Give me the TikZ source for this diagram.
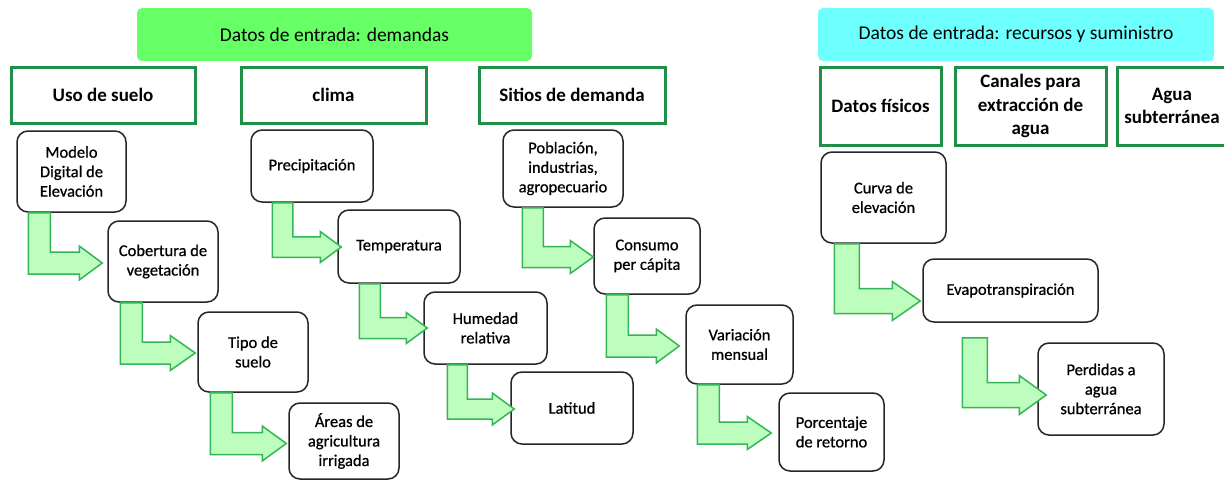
\documentclass[tikz,border=0pt]{standalone}
\usepackage{fontspec}
\setmainfont{Carlito}
\newfontfamily\itemfont[FakeBold=0.7]{Carlito}
\usetikzlibrary{calc}
\definecolor{hdgreen}{HTML}{66FF66}
\definecolor{hdcyan}{HTML}{6EFFFF}
\definecolor{catgreen}{HTML}{1E8F45}
\definecolor{arrfill}{HTML}{BDFDBD}
\definecolor{arrdraw}{HTML}{35B555}
\tikzset{
  header/.style={fill=#1, rounded corners=5pt, font=\fontsize{19.5}{23}\selectfont, inner sep=0pt},
  cat/.style={draw=catgreen, line width=3pt, fill=white, font=\bfseries\fontsize{19}{23.5}\selectfont, align=center, inner sep=0pt},
  item/.style={draw=black!85, line width=1.5pt, rounded corners=11pt, fill=white, font=\itemfont\fontsize{16.5}{19.5}\selectfont, align=center, inner sep=0pt},
  bent/.style={fill=arrfill, draw=arrdraw, line width=1.5pt, line join=miter},
}
% #1 src, #2 dst, #3 x offset, #4 gap, #5 tip dx, #6 tip dy, #7 shaft width, #8 head half height, #9 head length
\newcommand\bentarr[9]{%
  \draw[bent] let \p1=(#1.south west), \p2=(#2.west),
      \n1={\x1+#3pt}, \n2={\y1-#4pt}, \n3={\x2+#5pt}, \n4={\y2-#6pt} in
    (\n1,\n2) -- (\n1+#7pt,\n2) -- (\n1+#7pt,\n4+#7pt/2) -- (\n3-#9pt,\n4+#7pt/2)
    -- (\n3-#9pt,\n4+#8pt) -- (\n3,\n4) -- (\n3-#9pt,\n4-#8pt) -- (\n3-#9pt,\n4-#7pt/2)
    -- (\n1,\n4-#7pt/2) -- cycle;}
\begin{document}
\begin{tikzpicture}[x=1pt,y=-1pt]
\useasboundingbox (0,0) rectangle (1224,480);
\fill[white] (0,0) rectangle (1224,480);
% headers
\node[header=hdgreen, minimum width=395pt, minimum height=53pt] (hd) at (334.5,34.5) {Datos de entrada: demandas};
\node[header=hdcyan, minimum width=396pt, minimum height=53pt] (hr) at (1016,34.5) {Datos de entrada: recursos y suministro};
% categories
\node[cat, minimum width=184pt, minimum height=56pt] (c1) at (103,95) {Uso de suelo};
\node[cat, minimum width=185pt, minimum height=56pt] (c2) at (333.5,95) {clima};
\node[cat, minimum width=186pt, minimum height=56pt] (c3) at (572,95) {Sitios de demanda};
\node[cat, minimum width=121pt, minimum height=78pt] (c4) at (880.5,106) {Datos físicos};
\node[cat, minimum width=151pt, minimum height=78pt] (c5) at (1030.5,106) {Canales para\\extracción de\\agua};
\node[cat, minimum width=110pt, minimum height=78pt] (c6) at (1172,106) {Agua\\subterránea};
% uso de suelo column
\node[item, minimum width=109pt, minimum height=81pt] (m1) at (71.5,171.5) {Modelo\\Digital de\\Elevación};
\node[item, minimum width=110pt, minimum height=81pt] (m2) at (163,261.5) {Cobertura de\\vegetación};
\node[item, minimum width=110pt, minimum height=80pt] (m3) at (253,352) {Tipo de\\suelo};
\node[item, minimum width=110pt, minimum height=76pt] (m4) at (344,441) {Áreas de\\agricultura\\irrigada};
% clima column
\node[item, minimum width=122pt, minimum height=72pt] (k1) at (312,166) {Precipitación};
\node[item, minimum width=122pt, minimum height=73pt] (k2) at (399,246.5) {Temperatura};
\node[item, minimum width=123pt, minimum height=72pt] (k3) at (485.5,328) {Humedad\\relativa};
\node[item, minimum width=122pt, minimum height=72pt] (k4) at (572,408) {Latitud};
% sitios column
\node[item, minimum width=120pt, minimum height=77pt] (s1) at (563,168.5) {Población,\\industrias,\\agropecuario};
\node[item, minimum width=106pt, minimum height=76pt] (s2) at (647,256) {Consumo\\per cápita};
\node[item, minimum width=107pt, minimum height=79pt] (s3) at (739.5,344.5) {Variación\\mensual};
\node[item, minimum width=105pt, minimum height=78pt] (s4) at (831.5,432) {Porcentaje\\de retorno};
% recursos column
\node[item, minimum width=125pt, minimum height=91pt] (r1) at (883.5,197.5) {Curva de\\elevación};
\node[item, minimum width=175pt, minimum height=63pt] (r2) at (1010.5,290.5) {Evapotranspiración};
\node[item, minimum width=126pt, minimum height=92pt] (r3) at (1101,389) {Perdidas a\\agua\\subterránea};
% bent arrows
\bentarr{m1}{m2}{12}{0}{-5}{1.5}{22}{17}{23}
\bentarr{m2}{m3}{13}{0}{-2}{1}{22}{17.5}{25}
\bentarr{m3}{m4}{13}{0}{-2}{2.5}{22}{17.5}{24}
\bentarr{k1}{k2}{22}{0}{4}{0.5}{20.5}{15.5}{21}
\bentarr{k2}{k3}{22}{0}{4}{0}{21}{15.5}{21}
\bentarr{k3}{k4}{24}{0}{4}{1}{20}{16}{22}
\bentarr{s1}{s2}{20}{0}{0}{1}{21}{16.5}{23}
\bentarr{s2}{s3}{13}{0}{-6}{1.5}{22}{17}{23}
\bentarr{s3}{s4}{12}{0}{-7}{1}{22}{16.5}{24}
\bentarr{r1}{r2}{14}{0}{-2}{10.5}{25}{19.5}{28}
\bentarr{r2}{r3}{40}{15}{9}{6}{25}{19.5}{27}
\end{tikzpicture}
\end{document}
